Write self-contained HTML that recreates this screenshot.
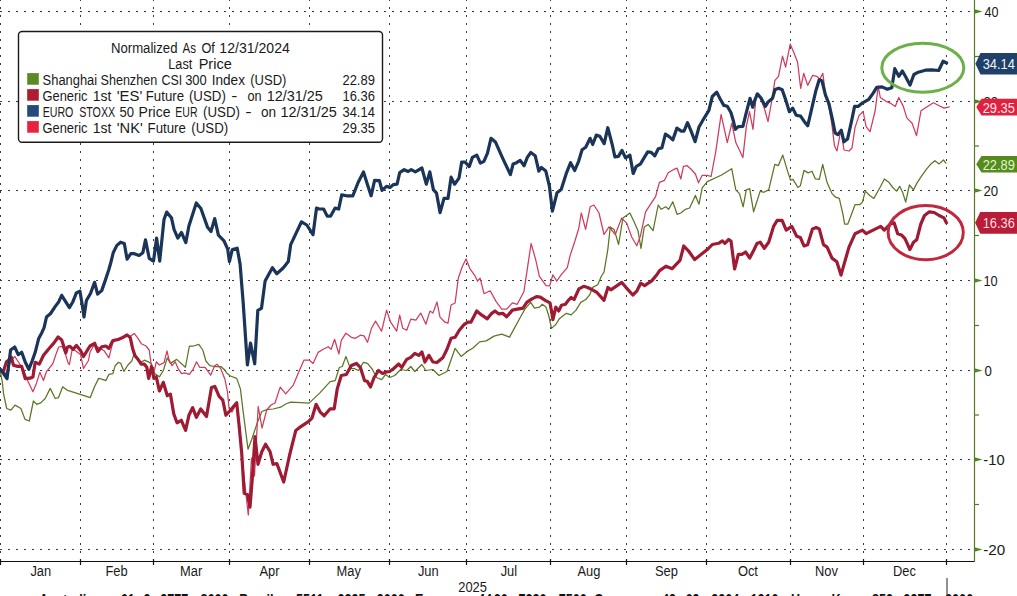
<!DOCTYPE html>
<html><head><meta charset="utf-8"><title>Chart</title>
<style>
html,body{margin:0;padding:0;background:#fff;width:1017px;height:596px;overflow:hidden}
svg{display:block}
.gh{stroke:#3a3a3a;stroke-width:1;stroke-dasharray:2 6}
.gv{stroke:#3a3a3a;stroke-width:1;stroke-dasharray:2 6;stroke-dashoffset:1}
.s{fill:none;stroke-linejoin:round;stroke-linecap:round}
.t{font-family:"Liberation Sans", Arial, sans-serif;font-size:14px;fill:#1a1a1a}
.tv{font-family:"Liberation Sans", Arial, sans-serif;font-size:14px}
.ft{font-family:"Liberation Sans", Arial, sans-serif;font-size:16px;font-weight:bold;fill:#111}
</style></head>
<body>
<svg width="1017" height="596" viewBox="0 0 1017 596">
<rect width="1017" height="596" fill="#fff"/>
<line x1="0" y1="11.5" x2="973.5" y2="11.5" class="gh"/>
<line x1="0" y1="101.5" x2="973.5" y2="101.5" class="gh"/>
<line x1="0" y1="190.5" x2="973.5" y2="190.5" class="gh"/>
<line x1="0" y1="280.5" x2="973.5" y2="280.5" class="gh"/>
<line x1="0" y1="370.5" x2="973.5" y2="370.5" class="gh"/>
<line x1="0" y1="459.5" x2="973.5" y2="459.5" class="gh"/>
<line x1="0" y1="549.5" x2="973.5" y2="549.5" class="gh"/>
<line x1="0.5" y1="0" x2="0.5" y2="560.5" class="gv"/>
<line x1="80.5" y1="0" x2="80.5" y2="560.5" class="gv"/>
<line x1="153.5" y1="0" x2="153.5" y2="560.5" class="gv"/>
<line x1="229.5" y1="0" x2="229.5" y2="560.5" class="gv"/>
<line x1="309.5" y1="0" x2="309.5" y2="560.5" class="gv"/>
<line x1="389.5" y1="0" x2="389.5" y2="560.5" class="gv"/>
<line x1="466.5" y1="0" x2="466.5" y2="560.5" class="gv"/>
<line x1="550.5" y1="0" x2="550.5" y2="560.5" class="gv"/>
<line x1="626.5" y1="0" x2="626.5" y2="560.5" class="gv"/>
<line x1="706.5" y1="0" x2="706.5" y2="560.5" class="gv"/>
<line x1="790.5" y1="0" x2="790.5" y2="560.5" class="gv"/>
<line x1="863.5" y1="0" x2="863.5" y2="560.5" class="gv"/>
<line x1="946.5" y1="0" x2="946.5" y2="560.5" class="gv"/>
<polyline class="s" stroke="#5a7724" stroke-width="1.25" points="0,370 2.3,381.7 3.5,393.4 6.7,408.5 10.9,410.2 15,405.1 20.9,408.5 25,419.4 29.3,421 33.4,401 36.8,404.3 41,402.6 45.2,398.5 50.2,388.4 55.2,398.5 58.5,397.6 62.7,386.8 66.9,390.1 90.3,397.6 94.7,386.2 98.7,378.4 101.8,379.2 105.8,380.7 108.9,374.4 112.9,373.6 115.2,365.7 118.4,362.3 120.8,363.4 123.9,371.3 127.9,365 131.8,361 134.2,353.9 137.3,357.9 140.5,362.6 144.4,360.2 148.4,361.8 151.5,364.2 154.7,373.6 159.4,376.8 163.3,370.5 167.3,357.9 170.4,363.4 176.7,359.4 185.4,367.3 189.4,346 193.3,346 198.8,344.4 202.8,350 205.9,361 209.9,365.7 214.6,366.5 220.9,366.5 224.8,370 226.4,372.8 230.4,376 236.7,378.4 240.4,388.9 243,410.3 248,449.2 251.8,439.2 256.8,424.1 261.8,411.5 266.9,409.7 273.1,409 280.7,407.2 285.7,404 290.8,402.2 300.8,402.7 309.1,403.1 320.1,392.6 330.2,381.6 335.2,380.6 339.3,367.5 342.3,366.5 345.9,356.4 350.4,368.5 354.4,368.5 358.4,370.5 363.4,362.4 367.5,363.4 372.5,369.5 376.5,377.5 381.6,379.6 385.6,374.5 389.6,377.5 394.7,375.5 400.7,369.5 406.7,370.5 410.8,366.5 414.8,371.5 421.9,364.5 425.9,370.5 432.9,369.5 439,375.5 447,371.5 455.1,348.3 461.1,356.4 467.2,351.4 473,348 479.6,341.9 486.3,340.9 494,336.1 501.7,334.2 509.5,337.1 514.3,328.4 520.1,317.8 524.9,309.1 530.7,302.4 534.5,308.1 539.4,307.2 542.3,304.3 546.1,307.2 549,316.8 551.5,328.4 555.8,324.5 559.6,318.4 566.4,313.3 571.2,314.9 576,310.1 580.8,302.4 585.7,299.5 589.5,295.2 592.7,287.4 597.7,284.8 601.5,276 604,272.2 607.8,249.6 610.3,226.9 614.1,229.4 618.6,244.5 622.9,218.1 629.9,213 634.2,221.9 638,230.7 641,248.3 644.3,226.9 648.1,224.4 653.1,230.7 658.2,205 661.2,209.3 665.7,206.8 668.7,209.3 672.8,201.7 677.1,214.3 680.8,213 685.4,209.3 689.6,208 695.4,195.4 699,204.2 702.2,187.9 707.3,181.6 721.1,175.3 731.7,168.7 735.8,189.9 739.5,193.6 743.1,206.9 746.3,189.9 749.7,188.7 753.6,211.8 760.2,191.1 763.8,192.3 768.7,189.9 774.8,164.3 778.4,165.6 782.8,155.1 787.7,171.6 790.6,180.2 793,179.4 797.9,187.5 800.3,185.8 804,170.4 808.1,172.9 812,171.2 815.4,178.9 819.3,179.4 822.7,164.3 827.1,182.6 832,193.6 835.6,197.2 839.3,198.4 842.9,214.2 844.6,224 847.8,224 851.5,214.2 855.1,204.5 860,204.5 862.4,202.1 865.3,191.1 869.7,195.5 873.9,198.4 880.7,186.3 884.3,178.9 888.5,181.9 892.8,187.5 896.5,191.1 899.7,186.3 902.6,192.3 905.7,202.1 909.4,185 913.5,189.9 917.2,182.6 922,175.3 926.9,168.7 930.6,164.3 934.9,160.7 939.1,163.9 943.5,160 945.9,163.1"/>
<polyline class="s" stroke="#d03c5c" stroke-width="1.25" points="0,370 5.3,374 10,362.9 14.7,356.4 19.4,363.5 23.5,369.9 27.6,380.5 32.9,391.7 36.4,383.4 39.9,372.3 43.5,380.5 46.4,371.7 49.3,368.2 52.9,363.5 55.8,354.7 58.7,347 62.3,346.4 65.2,353.5 68.1,362.9 69.4,364.5 72.4,348.4 80.5,354.4 83.5,368.5 88.5,360.5 90,352.3 93.9,345.2 98.7,347.6 104.2,350.8 108.9,357.9 112.9,342.1 116.8,339.7 121.6,338.1 126.3,335 130.2,336.6 134.2,333.4 137.3,337.4 141.3,343.7 146,346 149.2,350 150.7,361 153.1,375.2 154.7,368.9 156.3,361.8 159.4,365 164.1,362.6 167,350.8 168.9,359.4 172,365.7 175.2,361.8 178.3,368.9 181.5,373.6 184.6,372.8 189.4,374.4 193.3,368.9 196.5,361.8 199.6,367.3 205.1,367.3 210.7,375.2 214.6,365.7 217,364.2 220.9,368.9 224.9,379.2 227.5,392 229,408 232,412 236.7,403 239.5,425 242.5,462 245.5,490 248.3,515 251.5,458 254.5,476 258.2,406.5 262,428 266.7,410 271,405 275,403 280.2,387.1 285.7,393.9 293.3,385.1 299.6,370 304,360 309.1,360 313.1,363.4 318.1,352.4 323.2,349.3 328.2,346.7 331.2,349.3 334.6,339.3 338.9,354 341.3,340.3 345.9,333.2 351.4,337.3 355.4,338.3 360.4,335.2 364,335.9 367.5,342.3 371.5,328.2 375.5,321.1 381.6,331.2 386.6,310.1 390.6,322.2 396.7,331.2 399.7,315.1 402.7,328.2 406.7,330.2 410.8,319.1 415.8,320.1 420.8,313.1 425.9,324.2 429.9,311.1 432.9,313.1 437,302 440,317.1 445,322.2 448,323.2 451.1,305 455.1,303 458.3,278.2 462.2,266.7 466,258.9 469.9,268.6 474.7,275.3 477.6,281.1 480.1,278.2 484,293.7 490.2,290.8 496,301.4 501.7,309.1 506.6,309.1 512.4,302.9 517.2,304.3 523.9,291.7 526.8,272.4 531.1,243.5 535.5,258.9 539.4,276.3 546.1,285.6 549.6,286 552.9,274.8 556.7,281.1 561.5,274.4 567.3,267.6 570,255.9 575,240.8 578.8,228.2 581.3,213 585.6,229.4 590.2,206.8 593.9,205 599,213 604,234.5 609,226.9 615.3,234.5 621.6,218.1 626.7,223.1 631.7,237 636.8,245.8 640.5,235.7 645.6,211.8 650.6,204.2 655.6,196.7 659.4,182.3 664.5,180.3 668.2,172.7 673.3,169.7 677.1,168.2 680.8,179 683.4,166.4 687.1,165.7 690.9,169 695.4,174 698.5,182.8 702.2,175.3 707.3,175.3 711.1,176.5 715.6,152.6 721.1,114.4 727.3,142.6 731.8,123.1 735.8,142.6 742.9,157.6 746.3,126.6 749.5,111.6 753,129.3 756.4,93.4 760.4,98.5 764.4,108.5 768,121.6 771.5,102.5 774.9,80.3 778.5,76.3 782.5,56.2 785.6,67.2 790.2,44.1 793.6,52.1 797.6,62.2 800.7,88.4 803.7,73.3 807.7,85.4 812.7,75.3 816.8,76.3 819.8,79.3 822.8,73.3 825.8,96.4 828.9,106.5 831.9,124.6 834.5,145.8 837,151 840.9,129.7 844,150 849,151 852,148 855,127.6 859,115.6 863.1,111.5 866.1,126.6 870.1,131.7 875.2,110.5 878.2,86.4 880.3,97.5 885.6,101.1 890.9,103.4 895.3,106.4 898.8,97.5 903.3,106.4 906.8,117.9 912.1,123.2 916.5,135.6 921,110.8 926.3,107.3 933.4,102.8 938.7,105.5 944,108.1 949.3,106.9"/>
<polyline class="s" stroke="#9e1b33" stroke-width="3.2" points="0,370 3.5,371.1 6.5,361.7 8.8,360 11.2,357 13.5,365.2 17.6,366.4 21.7,366.4 25.3,378.7 30,378.2 32.9,377 35.2,362.3 39.3,364.1 43.5,355.3 49.3,348.2 54,342.9 58.1,337 61.7,340 64,347 65.8,352.9 67.5,347 70,346.4 73,349.4 76.5,345.4 80.5,350.4 83.5,356.5 88.5,348.4 90,346 94.7,343.3 97.9,351.6 101.8,346.8 105.8,346 108.9,348.4 112.9,340.5 117.6,339.7 121.6,338.1 127.1,335 130.2,337.4 132.6,348.4 134.9,355.5 138.1,359.4 141.2,364.2 144.4,364.2 146.8,367.3 148.7,378.4 151.5,366.5 153.9,378.4 156.3,376.8 159.4,391 163.3,382.3 167.3,395.7 170.4,394.1 173.8,414 177,422.8 181.3,420.3 185.6,430.4 188.9,415.3 192.6,407.7 196.4,417.3 200.7,409 206.5,416.5 211.5,387.6 214.8,386.4 219.1,396.4 222.8,400.2 225.9,415.3 230.4,410.3 236.7,402.7 239.2,426.6 241.7,453 244.2,493.3 247.5,494.5 250,507.1 252.5,475.7 255,436.7 258,464.3 261.8,451.8 265.6,444.2 270.1,451.8 273.1,464.3 276.9,463.6 283.7,482 289.5,455.5 295.8,430.4 300.8,426.6 308.4,421.6 312,418 316.1,404.3 320.1,411.8 324.2,415.8 330.2,408.8 334.2,408.8 337.3,388.6 341.3,375.5 346.3,374.5 351.4,365.5 356.4,363.4 360.4,367.5 364.5,380.6 367.5,381.6 370.5,387 374.1,377.5 378.5,370.5 382.6,373.5 385.6,372.1 389.6,371.5 393.7,368.5 398.7,364 401.7,367.5 406.7,359.4 410.8,357.4 414.8,353.4 418.8,355.4 421.9,352 424.9,362 428.9,355.4 432.9,362 437,362.4 443,357.4 447,349.3 451.1,338.3 455.1,337.3 459.3,330.3 464.1,324.5 468,322.2 470.9,322.2 476.7,311 481.5,314.9 487.3,318.8 491.1,313.9 495,311 498.8,313.9 502.7,313.3 506.6,316.8 512.4,310.1 517.2,309.1 523,308.1 526.8,302.4 531.6,299.1 536.5,296.6 540.3,297.1 545.2,300.4 550,302.9 551.5,311 552.9,319.7 555.8,307.2 558.7,311 561.5,305.2 565.4,304.3 568.3,300.4 571.2,297.5 574.1,299.5 578.9,288.8 583.7,286.3 587.6,287.5 592.4,289.8 597.2,292.7 604,300.4 607.9,287.5 610.8,289.8 617.1,285.6 621.8,282.4 625.7,287.1 632.8,295 636.8,291.1 640.7,283.2 644.6,285.6 651.7,280.9 656.4,275.3 659.6,270.6 665.9,266.2 672.2,268.7 680,260.4 683.8,246 688.4,250.8 694.7,259.6 701,254.6 707.3,249.6 712.3,244.5 718.6,243.3 722.4,240.8 724.9,243.3 728.7,239.5 731,241 734.6,269 738.3,254.4 741.9,254.4 745.6,252 749.7,258.1 754.1,249.5 757,243.5 760.2,242.2 764.3,248.3 768.7,242.2 773.6,226.4 777.2,220.3 782.1,220.3 786.2,230.1 791.8,226.4 796.7,236.2 800.3,237.4 804,245.9 807.6,244.7 812.5,228.9 816.2,227.6 819.3,228.9 823.5,244.7 827.1,247.1 832,258.1 836.8,261.7 841,275.1 844.1,264.1 849,247.1 855.1,233.7 862.4,230.1 866.1,233.7 872.1,230.6 880.7,226.4 884.3,230.1 890.4,224 894.1,222.8 897.7,233.7 901.4,234.9 905,238.6 909.9,249.5 913.5,242.2 916.7,239.8 920.8,224 924.5,215.5 929.4,211.8 934.2,212.5 939.1,215.5 944,217.9 946.4,222.8"/>
<polyline class="s" stroke="#1a3558" stroke-width="3.2" points="0,369 3.5,373.5 7,378.7 10.6,350 14.7,347 18.2,354.7 21.7,352.3 25.3,362.3 28.8,369.3 32.3,360.5 35.2,352.3 38.8,338.2 41.7,332.9 44.1,327.6 46.5,317 50.6,313.5 55.3,306.4 58.8,301.7 61.7,295.3 65.3,301.1 69.4,307.6 72.9,301.7 76.4,292.9 79.9,291.1 82.3,305.2 84,317 86.4,300.5 90.5,293.5 94.6,282.3 97.6,294.1 101.7,290.6 105.2,280.6 108.7,270 110.5,263.8 113.2,252.8 116.9,245.4 120.6,242.2 124.3,243.5 127.1,259.2 130.8,253.7 134.4,253.7 139.1,255.5 142.8,252.8 145.5,239.8 149.2,258.3 153.5,261.1 156.6,238 159.7,261.1 164,219.5 166.7,212.1 171.4,217.7 174.1,229.7 177.8,238 181.5,232.5 185.8,242.6 188.9,226 196.3,202.9 200.9,208.5 207.4,226.9 211,231.5 214.7,218.6 218.4,235.2 224,240.8 227.7,249.1 229.4,261.6 232.3,249.5 237.2,248.2 240.1,264.1 243.2,303 247.4,365 250.5,343.1 254.7,363.8 257.8,310.3 261.5,308.3 265.1,281.1 272.4,267.7 276.8,273.8 283.4,267.7 288.3,261.6 290.7,244.6 301.5,221.8 306.8,225 313,234.7 316.5,208.1 319.2,209 323.6,209 327.2,216.1 330.7,216.1 335.1,208.1 338.7,209 341.7,194.9 346.6,195.8 352.8,195.8 358.1,182.5 363.5,171.9 367.9,186 371.1,195.8 374.6,180.4 379.4,180.7 382,190.4 386.5,186.4 390,187.4 393.5,184.6 397.1,184.2 399.7,172.7 404.2,169.7 408.2,171.5 411.2,169.7 415.3,171.9 421.9,168 426.3,184.2 429.8,171.9 433.4,189.6 436.5,193.1 440.1,212.6 444,198.4 448,198.4 451.1,177.2 454.6,184.2 459,178.1 461.7,162.1 465.3,162.2 469.2,166.6 472.4,157.4 476.8,155.1 480.4,163.1 483.9,161.3 487.4,153.4 491,138.3 495.4,141.9 502.5,157.8 510.4,174.6 513.1,164 516.6,162.7 520.2,160.4 524.1,165.8 527.3,157.4 530.8,152.5 535.2,155.7 538.8,171.1 541.4,167.5 545.8,171.1 549.4,186.1 552.4,211.2 557,192.8 561.2,189.6 566.2,173.7 570.6,162.7 574.7,170.5 578.6,161.3 582.1,149.8 585.7,147.2 590.1,138.3 592.7,144.5 596.3,135.1 599.8,136.2 604.2,143.6 607.8,127.7 612.2,144.5 614.9,156.9 618.4,156.4 622,150.4 625.5,157.8 629.9,155.1 633.2,173.5 636.2,166.5 640.6,163.8 644.2,157.6 647.7,151.8 651.2,152.3 654.8,155.8 658.3,148.8 661.9,147.9 665.4,134.1 668.9,136.4 672.8,139.9 676.9,128.1 681.3,131.1 684,131.1 687.5,122.7 691.1,131.1 695.1,141.7 699,127 704.3,117.8 708.8,110.7 712.3,96.5 716.7,92.1 720.3,99.2 723.8,105.4 727.3,106.3 730.9,112.5 733.5,121.3 735.3,129.3 738.3,126.6 742.9,126.3 745.9,114.2 750,98.3 752.7,107.2 754.8,100.1 757.4,93.9 761,98 765.4,106.3 768.1,101.9 772.5,98.3 775.1,89.5 778.7,88.2 782.2,89.8 785.8,100.1 789.3,111.6 792.7,108.1 796.2,115.2 800.6,116.1 804.2,121.4 807.7,125.8 811.2,110.8 815.7,91.3 819.2,79.8 821.9,80.7 825.4,94.9 828.9,103.7 832.5,119.6 835.1,132.9 837.8,134.7 841.3,130.3 844,141.8 847.5,139.1 851.1,123.2 854.6,106.4 858.1,106.4 862.6,102.8 868.8,99.3 873.2,93.1 876.7,87.4 882,86.9 887.3,89.2 891.8,87.8 894.8,68.7 898.8,76.3 902.4,71 905.9,77.2 910,85.1 913.9,74.5 918.3,72.2 925.4,70.2 931.6,69.8 938.7,70.5 943.1,61.2 946.6,63"/>
<ellipse cx="922.8" cy="67.7" rx="41" ry="24.5" fill="none" stroke="#6cb04a" stroke-width="3"/>
<ellipse cx="925.7" cy="232.6" rx="37.6" ry="27.1" fill="none" stroke="#c2283c" stroke-width="3"/>
<line x1="0" y1="561.5" x2="974.5" y2="561.5" stroke="#111" stroke-width="1.2"/>
<line x1="0.5" y1="559.0" x2="0.5" y2="565.0" stroke="#111" stroke-width="1.2"/>
<line x1="80.5" y1="559.0" x2="80.5" y2="565.0" stroke="#111" stroke-width="1.2"/>
<line x1="153.5" y1="559.0" x2="153.5" y2="565.0" stroke="#111" stroke-width="1.2"/>
<line x1="229.5" y1="559.0" x2="229.5" y2="565.0" stroke="#111" stroke-width="1.2"/>
<line x1="309.5" y1="559.0" x2="309.5" y2="565.0" stroke="#111" stroke-width="1.2"/>
<line x1="389.5" y1="559.0" x2="389.5" y2="565.0" stroke="#111" stroke-width="1.2"/>
<line x1="466.5" y1="559.0" x2="466.5" y2="565.0" stroke="#111" stroke-width="1.2"/>
<line x1="550.5" y1="559.0" x2="550.5" y2="565.0" stroke="#111" stroke-width="1.2"/>
<line x1="626.5" y1="559.0" x2="626.5" y2="565.0" stroke="#111" stroke-width="1.2"/>
<line x1="706.5" y1="559.0" x2="706.5" y2="565.0" stroke="#111" stroke-width="1.2"/>
<line x1="790.5" y1="559.0" x2="790.5" y2="565.0" stroke="#111" stroke-width="1.2"/>
<line x1="863.5" y1="559.0" x2="863.5" y2="565.0" stroke="#111" stroke-width="1.2"/>
<line x1="946.5" y1="559.0" x2="946.5" y2="565.0" stroke="#111" stroke-width="1.2"/>
<text x="30.38" y="575.6" class="t" textLength="20.77" lengthAdjust="spacingAndGlyphs" xml:space="preserve">Jan</text>
<text x="105.50" y="575.6" class="t" textLength="22.19" lengthAdjust="spacingAndGlyphs" xml:space="preserve">Feb</text>
<text x="180.00" y="575.6" class="t" textLength="22.20" lengthAdjust="spacingAndGlyphs" xml:space="preserve">Mar</text>
<text x="259.38" y="575.6" class="t" textLength="20.05" lengthAdjust="spacingAndGlyphs" xml:space="preserve">Apr</text>
<text x="336.62" y="575.6" class="t" textLength="24.34" lengthAdjust="spacingAndGlyphs" xml:space="preserve">May</text>
<text x="417.88" y="575.6" class="t" textLength="20.77" lengthAdjust="spacingAndGlyphs" xml:space="preserve">Jun</text>
<text x="500.68" y="575.6" class="t" textLength="16.47" lengthAdjust="spacingAndGlyphs" xml:space="preserve">Jul</text>
<text x="577.46" y="575.6" class="t" textLength="22.93" lengthAdjust="spacingAndGlyphs" xml:space="preserve">Aug</text>
<text x="655.00" y="575.6" class="t" textLength="22.93" lengthAdjust="spacingAndGlyphs" xml:space="preserve">Sep</text>
<text x="737.92" y="575.6" class="t" textLength="20.04" lengthAdjust="spacingAndGlyphs" xml:space="preserve">Oct</text>
<text x="815.04" y="575.6" class="t" textLength="22.91" lengthAdjust="spacingAndGlyphs" xml:space="preserve">Nov</text>
<text x="893.04" y="575.6" class="t" textLength="22.91" lengthAdjust="spacingAndGlyphs" xml:space="preserve">Dec</text>
<text x="458.28" y="591.9" class="t" textLength="28.66" lengthAdjust="spacingAndGlyphs" xml:space="preserve">2025</text>
<line x1="947" y1="578" x2="947" y2="596" stroke="#222" stroke-width="1"/>
<line x1="974.5" y1="0" x2="974.5" y2="562.0" stroke="#5a7a2a" stroke-width="1.2"/>
<path d="M974.5 9.3 L982.5 11.5 L974.5 13.7 Z" fill="#4c8a20"/>
<text x="984.40" y="16.6" class="t" textLength="14.02" lengthAdjust="spacingAndGlyphs" xml:space="preserve">40</text>
<path d="M974.5 99.3 L982.5 101.5 L974.5 103.7 Z" fill="#4c8a20"/>
<text x="983.46" y="106.6" class="t" textLength="14.69" lengthAdjust="spacingAndGlyphs" xml:space="preserve">30</text>
<path d="M974.5 188.3 L982.5 190.5 L974.5 192.7 Z" fill="#4c8a20"/>
<text x="983.46" y="195.6" class="t" textLength="14.69" lengthAdjust="spacingAndGlyphs" xml:space="preserve">20</text>
<path d="M974.5 278.3 L982.5 280.5 L974.5 282.7 Z" fill="#4c8a20"/>
<text x="983.49" y="285.6" class="t" textLength="14.24" lengthAdjust="spacingAndGlyphs" xml:space="preserve">10</text>
<path d="M974.5 368.3 L982.5 370.5 L974.5 372.7 Z" fill="#4c8a20"/>
<text x="984.40" y="375.6" class="t" textLength="7.35" lengthAdjust="spacingAndGlyphs" xml:space="preserve">0</text>
<path d="M974.5 457.3 L982.5 459.5 L974.5 461.7 Z" fill="#4c8a20"/>
<text x="983.35" y="464.6" class="t" textLength="21.30" lengthAdjust="spacingAndGlyphs" xml:space="preserve">-10</text>
<path d="M974.5 547.3 L982.5 549.5 L974.5 551.7 Z" fill="#4c8a20"/>
<text x="983.32" y="554.6" class="t" textLength="21.94" lengthAdjust="spacingAndGlyphs" xml:space="preserve">-20</text>
<line x1="974.5" y1="56.5" x2="979.0" y2="56.5" stroke="#4f7a22" stroke-width="1.2"/>
<line x1="974.5" y1="146.0" x2="979.0" y2="146.0" stroke="#4f7a22" stroke-width="1.2"/>
<line x1="974.5" y1="235.5" x2="979.0" y2="235.5" stroke="#4f7a22" stroke-width="1.2"/>
<line x1="974.5" y1="325.5" x2="979.0" y2="325.5" stroke="#4f7a22" stroke-width="1.2"/>
<line x1="974.5" y1="415.0" x2="979.0" y2="415.0" stroke="#4f7a22" stroke-width="1.2"/>
<line x1="974.5" y1="504.5" x2="979.0" y2="504.5" stroke="#4f7a22" stroke-width="1.2"/>
<path d="M975.4 63.849999999999994 L980.5 53.1 L1017 53.1 L1017 74.6 L980.5 74.6 Z" fill="#1f4169"/>
<text x="982.68" y="68.9" class="tv" textLength="32.16" lengthAdjust="spacingAndGlyphs" xml:space="preserve" fill="#f0f4f8">34.14</text>
<path d="M976.3 107.1 L981.5 98.7 L1017 98.7 L1017 115.5 L981.5 115.5 Z" fill="#e2203e"/>
<text x="982.68" y="112.8" class="tv" textLength="32.16" lengthAdjust="spacingAndGlyphs" xml:space="preserve" fill="#ffe8ec">29.35</text>
<path d="M976.2 164.35 L981.5 156.1 L1017 156.1 L1017 172.6 L981.5 172.6 Z" fill="#578a1f"/>
<text x="982.68" y="170.1" class="tv" textLength="32.16" lengthAdjust="spacingAndGlyphs" xml:space="preserve" fill="#def7c8">22.89</text>
<path d="M975.1 222.85 L980.3 212.0 L1017 212.0 L1017 233.7 L980.3 233.7 Z" fill="#b81c36"/>
<text x="982.68" y="228.0" class="tv" textLength="32.16" lengthAdjust="spacingAndGlyphs" xml:space="preserve" fill="#ffdbe2">16.36</text>
<rect x="18.5" y="31.5" width="364" height="110.8" rx="3.5" ry="3.5" fill="#fff" stroke="#1a1a1a" stroke-width="1.4"/>
<text x="110.96" y="52.8" class="t" textLength="66.50" lengthAdjust="spacingAndGlyphs" xml:space="preserve">Normalized</text>
<text x="182.60" y="52.8" class="t" textLength="13.48" lengthAdjust="spacingAndGlyphs" xml:space="preserve">As</text>
<text x="201.39" y="52.8" class="t" textLength="13.41" lengthAdjust="spacingAndGlyphs" xml:space="preserve">Of</text>
<text x="219.39" y="52.8" class="t" textLength="70.48" lengthAdjust="spacingAndGlyphs" xml:space="preserve">12/31/2024</text>
<text x="168.30" y="68.8" class="t" textLength="23.93" lengthAdjust="spacingAndGlyphs" xml:space="preserve">Last</text>
<text x="198.66" y="68.8" class="t" textLength="33.08" lengthAdjust="spacingAndGlyphs" xml:space="preserve">Price</text>
<rect x="27.2" y="73.1" width="11.6" height="11.6" fill="#5b8a25"/>
<text x="42.58" y="84.7" class="t" textLength="54.60" lengthAdjust="spacingAndGlyphs" xml:space="preserve">Shanghai</text>
<text x="100.50" y="84.7" class="t" textLength="56.65" lengthAdjust="spacingAndGlyphs" xml:space="preserve">Shenzhen</text>
<text x="161.51" y="84.7" class="t" textLength="20.68" lengthAdjust="spacingAndGlyphs" xml:space="preserve">CSI</text>
<text x="185.18" y="84.7" class="t" textLength="21.55" lengthAdjust="spacingAndGlyphs" xml:space="preserve">300</text>
<text x="211.63" y="84.7" class="t" textLength="33.32" lengthAdjust="spacingAndGlyphs" xml:space="preserve">Index</text>
<text x="250.27" y="84.7" class="t" textLength="36.16" lengthAdjust="spacingAndGlyphs" xml:space="preserve">(USD)</text>
<text x="342.48" y="84.7" class="t" textLength="32.37" lengthAdjust="spacingAndGlyphs" xml:space="preserve">22.89</text>
<rect x="27.2" y="89.1" width="11.6" height="11.6" fill="#b01c30"/>
<text x="42.48" y="100.8" class="t" textLength="45.05" lengthAdjust="spacingAndGlyphs" xml:space="preserve">Generic</text>
<text x="92.71" y="100.8" class="t" textLength="18.58" lengthAdjust="spacingAndGlyphs" xml:space="preserve">1st</text>
<text x="116.74" y="100.8" class="t" textLength="25.56" lengthAdjust="spacingAndGlyphs" xml:space="preserve">'ES'</text>
<text x="145.75" y="100.8" class="t" textLength="38.39" lengthAdjust="spacingAndGlyphs" xml:space="preserve">Future</text>
<text x="188.95" y="100.8" class="t" textLength="36.89" lengthAdjust="spacingAndGlyphs" xml:space="preserve">(USD)</text>
<text x="231.30" y="100.8" class="t" textLength="6.07" lengthAdjust="spacingAndGlyphs" xml:space="preserve">-</text>
<text x="247.39" y="100.8" class="t" textLength="14.13" lengthAdjust="spacingAndGlyphs" xml:space="preserve">on</text>
<text x="266.67" y="100.8" class="t" textLength="56.15" lengthAdjust="spacingAndGlyphs" xml:space="preserve">12/31/25</text>
<text x="342.48" y="100.8" class="t" textLength="32.37" lengthAdjust="spacingAndGlyphs" xml:space="preserve">16.36</text>
<rect x="27.2" y="105.1" width="11.6" height="11.6" fill="#234a78"/>
<text x="42.64" y="116.8" class="t" textLength="30.70" lengthAdjust="spacingAndGlyphs" xml:space="preserve">EURO</text>
<text x="79.14" y="116.8" class="t" textLength="36.02" lengthAdjust="spacingAndGlyphs" xml:space="preserve">STOXX</text>
<text x="119.56" y="116.8" class="t" textLength="14.58" lengthAdjust="spacingAndGlyphs" xml:space="preserve">50</text>
<text x="138.60" y="116.8" class="t" textLength="31.91" lengthAdjust="spacingAndGlyphs" xml:space="preserve">Price</text>
<text x="175.35" y="116.8" class="t" textLength="22.17" lengthAdjust="spacingAndGlyphs" xml:space="preserve">EUR</text>
<text x="203.05" y="116.8" class="t" textLength="36.89" lengthAdjust="spacingAndGlyphs" xml:space="preserve">(USD)</text>
<text x="245.33" y="116.8" class="t" textLength="6.38" lengthAdjust="spacingAndGlyphs" xml:space="preserve">-</text>
<text x="261.03" y="116.8" class="t" textLength="15.13" lengthAdjust="spacingAndGlyphs" xml:space="preserve">on</text>
<text x="280.57" y="116.8" class="t" textLength="56.15" lengthAdjust="spacingAndGlyphs" xml:space="preserve">12/31/25</text>
<text x="342.48" y="116.8" class="t" textLength="32.37" lengthAdjust="spacingAndGlyphs" xml:space="preserve">34.14</text>
<rect x="27.2" y="121.1" width="11.6" height="11.6" fill="#e8223f"/>
<text x="42.48" y="132.9" class="t" textLength="45.05" lengthAdjust="spacingAndGlyphs" xml:space="preserve">Generic</text>
<text x="92.71" y="132.9" class="t" textLength="18.58" lengthAdjust="spacingAndGlyphs" xml:space="preserve">1st</text>
<text x="116.75" y="132.9" class="t" textLength="25.98" lengthAdjust="spacingAndGlyphs" xml:space="preserve">'NK'</text>
<text x="147.55" y="132.9" class="t" textLength="38.29" lengthAdjust="spacingAndGlyphs" xml:space="preserve">Future</text>
<text x="191.35" y="132.9" class="t" textLength="36.89" lengthAdjust="spacingAndGlyphs" xml:space="preserve">(USD)</text>
<text x="342.48" y="132.9" class="t" textLength="32.37" lengthAdjust="spacingAndGlyphs" xml:space="preserve">29.35</text>
<g transform="scale(0.79 1)">
<text x="49.6" y="606.2" class="ft">Australia</text>
<text x="152.9" y="606.2" class="ft">61</text>
<text x="181.5" y="606.2" class="ft">2</text>
<text x="202.8" y="606.2" class="ft">9777</text>
<text x="253.7" y="606.2" class="ft">8600</text>
<text x="302.7" y="606.2" class="ft">Brazil</text>
<text x="374.8" y="606.2" class="ft">5511</text>
<text x="427.1" y="606.2" class="ft">2395</text>
<text x="476.8" y="606.2" class="ft">9000</text>
<text x="525.4" y="606.2" class="ft">Europe</text>
<text x="605.2" y="606.2" class="ft">44</text>
<text x="625.1" y="606.2" class="ft">20</text>
<text x="656.2" y="606.2" class="ft">7330</text>
<text x="707.2" y="606.2" class="ft">7500</text>
<text x="752.0" y="606.2" class="ft">Germany</text>
<text x="838.0" y="606.2" class="ft">49</text>
<text x="867.8" y="606.2" class="ft">69</text>
<text x="900.3" y="606.2" class="ft">9204</text>
<text x="949.9" y="606.2" class="ft">1210</text>
<text x="1001.3" y="606.2" class="ft">Hong</text>
<text x="1052.4" y="606.2" class="ft">Kong</text>
<text x="1103.7" y="606.2" class="ft">852</text>
<text x="1143.5" y="606.2" class="ft">2977</text>
<text x="1196.3" y="606.2" class="ft">6000</text>
</g>
</svg>
</body></html>
